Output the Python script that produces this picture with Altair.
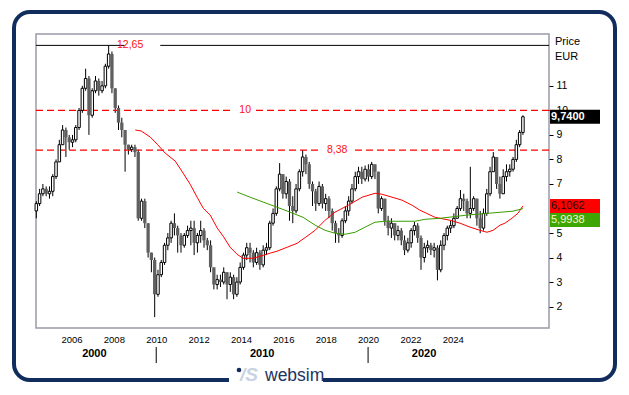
import altair as alt
import pandas as pd

FONT = "Liberation Sans"

# ---------------- candle data (price, EUR) ----------------
T0 = 2004.34          # time of first candle (axis years)
PERIOD = 0.1552       # candle period in axis years
FIRST_OPEN = 5.9
CLOSE = [6.2, 6.6, 6.8, 6.6, 6.7, 7.3, 7.9, 8.6, 9.2, 8.9,
         8.7, 8.8, 9.3, 10.0, 10.9, 11.3, 9.8, 10.8, 11.2, 10.8,
         11.0, 11.8, 12.3, 10.9, 10.1, 9.5, 9.2, 8.6, 8.4, 8.5,
         8.3, 5.6, 6.3, 5.4, 4.2, 3.9, 2.5, 3.3, 3.8, 4.5,
         4.8, 5.4, 5.2, 4.9, 4.5, 4.9, 5.1, 5.2, 4.6, 4.9,
         5.1, 4.7, 4.5, 3.6, 2.9, 3.1, 3.0, 3.4, 2.9, 3.2,
         2.5, 3.0, 3.6, 4.1, 4.4, 4.2, 3.8, 4.2, 3.7, 4.3,
         4.4, 5.4, 5.8, 6.8, 7.4, 6.6, 7.1, 6.1, 5.9, 6.8,
         7.5, 8.1, 7.8, 7.0, 6.7, 6.2, 6.9, 6.2, 6.4, 5.9,
         5.4, 5.0, 4.9, 5.5, 5.9, 6.3, 6.8, 7.3, 7.5, 7.2,
         7.6, 7.3, 7.8, 7.5, 6.0, 6.4, 5.5, 5.2, 5.4, 4.9,
         5.1, 4.7, 4.3, 4.6, 5.1, 5.3, 4.8, 4.0, 4.4, 4.5,
         4.3, 4.4, 3.5, 4.5, 4.9, 5.2, 5.3, 5.6, 6.0, 6.4,
         6.3, 5.8, 6.0, 6.4, 5.6, 5.2, 5.8, 6.6, 7.5, 8.1,
         7.0, 6.6, 7.3, 7.5, 7.6, 8.0, 8.6, 9.1, 9.74]
HIGH = [6.3, 6.8, 7.0, 6.9, 6.9, 7.4, 8.0, 8.8, 9.4, 9.3,
        9.0, 9.0, 9.4, 10.1, 11.0, 11.7, 11.4, 10.9, 11.4, 11.3,
        11.2, 11.9, 12.65, 12.4, 10.9, 10.2, 9.7, 9.2, 8.6, 8.6,
        8.6, 8.4, 6.4, 6.4, 5.4, 4.2, 4.0, 3.5, 3.9, 4.6,
        5.0, 5.5, 5.8, 5.3, 5.0, 5.0, 5.3, 5.5, 5.5, 5.0,
        5.5, 5.2, 4.8, 4.7, 3.6, 3.3, 3.3, 3.6, 3.4, 3.4,
        3.3, 3.2, 3.8, 4.2, 4.6, 4.6, 4.3, 4.4, 4.3, 4.5,
        4.6, 5.5, 6.0, 6.9, 7.85, 7.4, 7.3, 7.2, 6.5, 7.0,
        7.6, 8.38, 8.2, 7.9, 7.1, 6.8, 7.1, 7.0, 6.6, 6.5,
        6.0, 5.5, 5.2, 5.6, 6.1, 6.5, 7.0, 7.5, 7.7, 7.7,
        7.75, 7.8, 7.9, 7.8, 7.5, 6.5, 6.4, 5.7, 5.6, 5.4,
        5.3, 5.2, 4.9, 4.8, 5.2, 5.45, 5.4, 4.9, 4.6, 4.7,
        4.6, 4.6, 4.5, 4.7, 5.0, 5.3, 5.5, 5.8, 6.1, 6.75,
        6.6, 6.4, 7.7, 6.5, 6.4, 5.9, 6.0, 6.8, 7.7, 8.3,
        8.1, 7.3, 7.6, 7.8, 7.8, 8.1, 8.8, 9.2, 9.8]
LOW = [5.6, 6.1, 6.5, 6.5, 6.4, 6.5, 7.2, 7.9, 8.6, 8.1,
       8.4, 8.5, 8.7, 9.2, 9.9, 10.8, 9.0, 9.7, 10.7, 10.6,
       10.7, 10.9, 11.7, 10.7, 9.9, 9.2, 8.9, 7.5, 8.2, 8.3,
       8.1, 5.5, 5.5, 5.2, 4.0, 3.4, 1.57, 2.4, 3.2, 3.7,
       4.3, 4.6, 4.9, 4.2, 4.2, 4.4, 4.8, 4.5, 4.1, 4.2,
       4.6, 4.4, 4.3, 3.4, 2.7, 2.7, 2.8, 2.9, 2.3, 2.6,
       2.3, 2.4, 2.9, 3.5, 3.9, 3.8, 3.6, 3.7, 3.5, 3.6,
       4.1, 4.3, 5.3, 5.7, 6.7, 6.4, 6.4, 5.5, 5.4, 5.8,
       6.7, 7.3, 7.4, 6.8, 6.1, 5.9, 6.1, 6.0, 5.9, 5.6,
       5.1, 4.6, 4.6, 4.8, 5.4, 5.7, 6.2, 6.7, 7.0, 7.0,
       7.1, 7.1, 7.2, 7.2, 5.8, 5.9, 5.3, 4.9, 4.8, 4.7,
       4.7, 4.5, 4.1, 4.2, 4.4, 4.9, 4.6, 3.5, 3.8, 4.2,
       4.1, 4.0, 3.07, 3.4, 4.3, 4.7, 5.0, 5.2, 5.6, 5.9,
       5.9, 5.6, 5.6, 5.9, 5.3, 4.99, 5.1, 5.7, 6.5, 7.5,
       6.8, 6.4, 6.6, 7.1, 7.3, 7.5, 7.9, 8.5, 9.0]

# ---------------- moving averages ----------------
RED_T = [2009.01, 2009.29, 2009.72, 2010.05, 2010.42, 2010.90, 2011.27, 2011.60,
         2011.93, 2012.22, 2012.55, 2012.88, 2013.16, 2013.49, 2013.82, 2014.10,
         2014.58, 2015.05, 2015.38, 2015.71, 2016.18, 2016.65, 2017.12, 2017.50,
         2017.97, 2018.44, 2019.06, 2019.72, 2020.33, 2020.66, 2021.13, 2021.60,
         2022.08, 2022.45, 2023.16, 2023.87, 2024.34, 2024.81, 2025.28, 2025.61,
         2025.90, 2026.23, 2026.46, 2026.79, 2027.08, 2027.31]
RED_V = [9.20, 9.16, 8.91, 8.62, 8.26, 7.93, 7.44, 6.99,
         6.46, 6.01, 5.73, 5.20, 4.87, 4.42, 4.13, 3.97,
         3.97, 4.09, 4.18, 4.26, 4.42, 4.58, 4.87, 5.11,
         5.52, 5.85, 6.13, 6.46, 6.62, 6.58, 6.46, 6.34,
         6.13, 5.93, 5.64, 5.52, 5.40, 5.24, 5.11, 5.03,
         5.11, 5.32, 5.40, 5.60, 5.81, 6.1062]
GREEN_T = [2013.82, 2014.43, 2015.05, 2015.71, 2016.32, 2016.93, 2017.50, 2017.97,
           2018.44, 2018.92, 2019.39, 2019.86, 2020.33, 2020.80, 2021.60, 2022.22,
           2022.69, 2023.40, 2024.67, 2025.75, 2026.84, 2027.31]
GREEN_V = [6.67, 6.46, 6.26, 6.05, 5.85, 5.64, 5.32, 5.11,
           4.99, 4.95, 5.03, 5.24, 5.44, 5.48, 5.48, 5.48,
           5.56, 5.60, 5.73, 5.81, 5.89, 5.9938]

# ---------------- reference levels ----------------
LEVELS = [12.65, 10.0, 8.38]
LEVEL_TEXT = ["12,65", "10", "8,38"]
LEVEL_KIND = ["solid", "dashed", "dashed"]
LEVEL_LABEL_T = [2008.77, 2014.20, 2018.54]
LEVEL_GAP_T0 = [2008.49, 2013.63, 2017.74]
LEVEL_GAP_T1 = [2010.19, 2014.67, 2019.25]

# ---------------- axes / labels ----------------
X_TICKS = [2006, 2008, 2010, 2012, 2014, 2016, 2018, 2020, 2022, 2024]
Y_TICKS = [2, 3, 4, 5, 7, 8, 9, 10, 11]   # the 6 is hidden behind the value boxes
DECADES = ["2000", "2010", "2020"]
DECADE_T = [2007.08, 2015.0, 2022.64]
DECADE_SEP = [2010, 2020]

LAST_TEXT = ["9,7400", "6,1062", "5,9938"]
LAST_VALUE = [9.74, 6.1062, 5.9938]
LAST_FILL = ["#000000", "#ff0000", "#3da600"]
LAST_TEXT_COLOR = ["#ffffff", "#111111", "#f6f6d2"]
LAST_WEIGHT = ["bold", "normal", "normal"]

# ---------------- geometry ----------------
W, H = 513, 294
X_DOM = [2004.325, 2028.54]
Y_DOM = [1.127, 13.114]
PX_PER_UNIT = H / (Y_DOM[1] - Y_DOM[0])
BOX_H = 14

xs = alt.Scale(domain=X_DOM, nice=False, zero=False, padding=0)
ys = alt.Scale(domain=Y_DOM, nice=False, zero=False, padding=0)

AX_X = alt.Axis(values=X_TICKS, format="d", labelFont=FONT, labelFontSize=9.5,
                labelColor="black", ticks=False, tickSize=0, domain=False,
                grid=False, labelPadding=6, labelFlush=False, title=None)
AX_Y = alt.Axis(orient="right", values=Y_TICKS, format="d", labelFont=FONT,
                labelFontSize=10.5, labelColor="black", tickSize=4,
                tickColor="black", tickWidth=1, domain=False, grid=False,
                labelPadding=3, title=None)

X = lambda f: alt.X(f, type="quantitative", scale=xs, axis=AX_X, title=None)
Y = lambda f: alt.Y(f, type="quantitative", scale=ys, axis=AX_Y, title=None)

opens = [FIRST_OPEN] + CLOSE[:-1]
candles = pd.DataFrame({
    "t": [T0 + i * PERIOD for i in range(len(CLOSE))],
    "open": opens, "close": CLOSE, "high": HIGH, "low": LOW,
})
candles["high"] = candles[["high", "open", "close"]].max(axis=1)
candles["low"] = candles[["low", "open", "close"]].min(axis=1)
candles["up"] = candles["close"] >= candles["open"]

red = pd.DataFrame({"t": RED_T, "v": RED_V})
green = pd.DataFrame({"t": GREEN_T, "v": GREEN_V})
levels = pd.DataFrame({"v": LEVELS, "txt": LEVEL_TEXT, "kind": LEVEL_KIND,
                       "lt": LEVEL_LABEL_T, "g0": LEVEL_GAP_T0, "g1": LEVEL_GAP_T1})
levels["vlo"] = levels["v"] - 5 / PX_PER_UNIT
levels["vhi"] = levels["v"] + 5 / PX_PER_UNIT

box_center = [LAST_VALUE[0], LAST_VALUE[1], LAST_VALUE[1] - BOX_H / PX_PER_UNIT]
last = pd.DataFrame({"txt": LAST_TEXT, "yc": box_center, "fill": LAST_FILL,
                     "tc": LAST_TEXT_COLOR, "fw": LAST_WEIGHT})

decades = pd.DataFrame({"txt": DECADES, "t": DECADE_T})
seps = pd.DataFrame({"t": DECADE_SEP})
one = pd.DataFrame({"a": [0]})

wicks = alt.Chart(candles).mark_rule(color="black", strokeWidth=1).encode(
    x=X("t"), y=Y("low"), y2="high")

level_solid = alt.Chart(levels).transform_filter("datum.kind == 'solid'").mark_rule(
    color="black", strokeWidth=1).encode(y=Y("v"))
level_dash = alt.Chart(levels).transform_filter("datum.kind == 'dashed'").mark_rule(
    color="#ff0000", strokeWidth=1.4, strokeDash=[7, 4]).encode(y=Y("v"))
level_gap = alt.Chart(levels).mark_rect(fill="white").encode(
    x=X("g0"), x2="g1", y=Y("vlo"), y2="vhi")
level_txt = alt.Chart(levels).mark_text(font=FONT, fontSize=10.5, color="#ff1010",
                                        baseline="middle").encode(
    x=X("lt"), y=Y("v"), text="txt:N")

up_body = alt.Chart(candles).transform_filter("datum.up").mark_bar(
    size=2.5, fill="white", stroke="black", strokeWidth=1).encode(
    x=X("t"), y=Y("open"), y2="close")
down_body = alt.Chart(candles).transform_filter("!datum.up").mark_bar(
    size=3.3, fill="#606060").encode(x=X("t"), y=Y("open"), y2="close")

red_line = alt.Chart(red).mark_line(color="#ff0000", strokeWidth=1).encode(x=X("t"), y=Y("v"))
green_line = alt.Chart(green).mark_line(color="#3a9d00", strokeWidth=1).encode(x=X("t"), y=Y("v"))

box_shape = "M-1,-0.28L1,-0.28L1,0.28L-1,0.28Z"
boxes = alt.Chart(last).mark_point(shape=box_shape, size=2500, filled=True, opacity=1,
                                   strokeWidth=0).encode(
    x=alt.value(W + 26), y=Y("yc"), color=alt.Color("fill:N", scale=None))
box_txt_b = alt.Chart(last).transform_filter("datum.fw == 'bold'").mark_text(
    font=FONT, fontSize=11, fontWeight="bold", align="left", baseline="middle").encode(
    x=alt.value(W + 2), y=Y("yc"), text="txt:N", color=alt.Color("tc:N", scale=None))
box_txt_n = alt.Chart(last).transform_filter("datum.fw == 'normal'").mark_text(
    font=FONT, fontSize=11, align="left", baseline="middle").encode(
    x=alt.value(W + 2), y=Y("yc"), text="txt:N", color=alt.Color("tc:N", scale=None))

price_lbl = alt.Chart(one).mark_text(font=FONT, fontSize=11, align="left", baseline="middle",
                                     color="black", text="Price").encode(
    x=alt.value(W + 6), y=alt.value(8))
eur_lbl = alt.Chart(one).mark_text(font=FONT, fontSize=11, align="left", baseline="middle",
                                   color="black", text="EUR").encode(
    x=alt.value(W + 6), y=alt.value(23))

dec_txt = alt.Chart(decades).mark_text(font=FONT, fontSize=11, fontWeight="bold",
                                       color="black", baseline="middle").encode(
    x=X("t"), y=alt.value(H + 26), text="txt:N")
dec_sep = alt.Chart(seps).mark_rule(color="black", strokeWidth=1).encode(
    x=X("t"), y=alt.value(H + 19), y2=alt.value(H + 35))

NAVY = "#102d5e"
frame = alt.Chart(one).mark_rect(fillOpacity=0, stroke=NAVY, strokeWidth=4,
                                 cornerRadius=16).encode(
    x=alt.value(-22), x2=alt.value(579), y=alt.value(-22), y2=alt.value(346))
logo_gap = alt.Chart(one).mark_rect(fill="white").encode(
    x=alt.value(193), x2=alt.value(287), y=alt.value(336), y2=alt.value(352))
logo_dot = alt.Chart(one).mark_point(shape="circle", filled=True, size=22, color=NAVY,
                                     opacity=1).encode(x=alt.value(203), y=alt.value(336))
logo_mark = alt.Chart(one).mark_text(font=FONT, fontSize=19, fontWeight="bold",
                                     fontStyle="italic", color="#c9d3e1", align="left",
                                     baseline="alphabetic", text="/S").encode(
    x=alt.value(204), y=alt.value(347))
logo_txt = alt.Chart(one).mark_text(font=FONT, fontSize=17.5, color="#1b355f",
                                    align="left", baseline="alphabetic",
                                    text="websim").encode(
    x=alt.value(229), y=alt.value(347))

chart = alt.layer(
    wicks, level_solid, level_dash, level_gap, level_txt,
    up_body, down_body, red_line, green_line,
    boxes, box_txt_b, box_txt_n, price_lbl, eur_lbl,
    dec_txt, dec_sep, frame, logo_gap, logo_dot, logo_mark, logo_txt,
).properties(
    width=W, height=H,
    autosize=alt.AutoSizeParams(type="none"),
    padding={"left": 28, "top": 26, "right": 72, "bottom": 58},
    background="white",
).configure_view(stroke="#9a9aaa", strokeWidth=1.5)

chart.save("out.html", embed_options={"renderer": "svg", "actions": False})
